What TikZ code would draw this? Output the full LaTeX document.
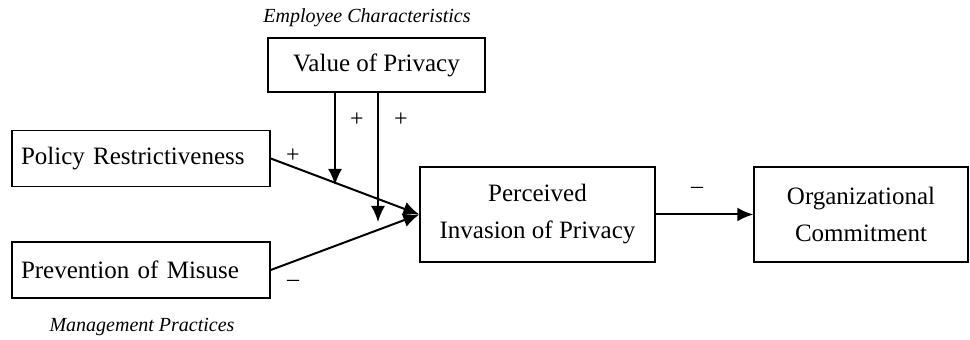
\documentclass[tikz,border=0pt]{standalone}
\usepackage{fontspec}
\setmainfont{Liberation Serif}
\usetikzlibrary{arrows.meta,positioning}
\tikzset{>={Latex[length=8pt,width=7pt]}}
\tikzstyle{factor}=[rectangle,draw,line width=0.75pt,inner sep=0pt,
  font=\fontsize{12.5}{14}\selectfont,align=center]
\tikzstyle{practice}=[factor,inner xsep=4.5pt,text width=120pt,align=left,
  minimum height=28pt]
\tikzstyle{sign}=[font=\fontsize{12}{14}\selectfont,inner sep=0pt]
\tikzstyle{group}=[font=\fontsize{10}{12}\selectfont\itshape,inner sep=0pt]

\begin{document}
\begin{tikzpicture}[x=0.5pt,y=-0.5pt,line width=1pt]
  \useasboundingbox (0,0) rectangle (970,340);

  % moderator
  \path (367,18) node (ec) [group] {Employee Characteristics};
  \path (376.5,65) node (vp) [factor,minimum width=108.5pt,minimum height=27pt] {Value of Privacy};

  % management practices
  \path (141,158.5) node (pr) [practice] {Policy Restrictiveness};
  \path (141,270) node (pm) [practice] {Prevention of Misuse};
  \path (142,327) node (mp) [group] {Management Practices};

  % outcomes
  \path (537.5,214.5) node (pip) [factor,minimum width=117.5pt,minimum height=47.5pt]
    {Perceived\\[4.5pt]Invasion of Privacy};
  \path (861,214.5) node (oc) [factor,minimum width=107pt,minimum height=47.5pt]
    {Organizational\\[4.5pt]Commitment};

  \coordinate (m1) at (335,185);
  \coordinate (m2) at (378,222);

  \draw[->] (pr.east) -- (pip.west) ;
  \draw[->] (pm.east) -- (pip.west) ;
  \draw[->] (vp.south -| m1) -- (m1) ;
  \draw[->] (vp.south -| m2) -- (m2) ;
  \draw[->] (pip.east) -- (oc.west) ;

  \path (293,156) node (s1) [sign] {+};
  \path (293,283) node (s2) [sign] {--};
  \path (357,120) node (s3) [sign] {+};
  \path (401,120) node (s4) [sign] {+};
  \path (697,190) node (s5) [sign] {--};

\end{tikzpicture}
\end{document}
